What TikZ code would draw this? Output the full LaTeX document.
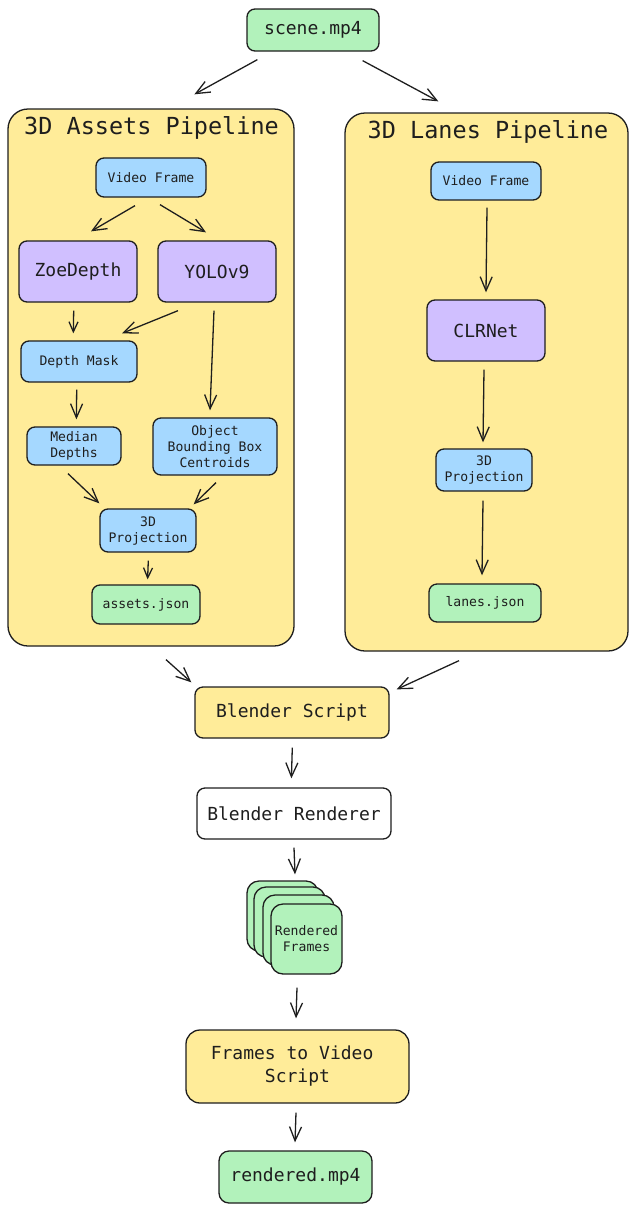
\documentclass[tikz,border=0pt]{standalone}
\usepackage{fontspec}
\newfontfamily\dmono{DejaVu Sans Mono}
\usetikzlibrary{arrows.meta,calc}
\definecolor{ink}{HTML}{1E1E1E}
\definecolor{fgreen}{HTML}{B2F2BB}
\definecolor{fblue}{HTML}{A5D8FF}
\definecolor{fpurple}{HTML}{D0BFFF}
\definecolor{fyellow}{HTML}{FFEC99}
\tikzset{
  x=1pt,y=-1pt,
  box/.style={draw=ink, line width=1.3pt, rounded corners=8pt, align=center, inner sep=0pt, text=ink},
  small/.style={font=\dmono\fontsize{13.1}{16}\selectfont},
  medium/.style={font=\dmono\fontsize{18}{23}\selectfont},
  titlef/.style={font=\dmono\fontsize{23.5}{28}\selectfont, text=ink},
  gbox/.style={box, fill=fgreen},
  bbox/.style={box, fill=fblue},
  pbox/.style={box, fill=fpurple},
  ybox/.style={box, fill=fyellow},
  wbox/.style={box, fill=white},
  container/.style={draw=ink, line width=1.3pt, rounded corners=20pt, fill=fyellow, inner sep=0pt},
  arr/.style={draw=ink, line width=1.3pt, -{Straight Barb[length=14pt,width=12pt,line width=1.3pt]}},
  sarr/.style={draw=ink, line width=1.3pt, -{Straight Barb[length=10pt,width=9pt,line width=1.3pt]}},
}
\begin{document}
\begin{tikzpicture}
\useasboundingbox (0,0) rectangle (629,1205);
% containers
\node[container, minimum width=286pt, minimum height=537pt] (leftc) at (151,377.5) {};
\node[container, minimum width=283pt, minimum height=538pt] (rightc) at (486.5,382) {};
\node[titlef] (ltitle) at (151.5,128) {3D Assets Pipeline};
\node[titlef] (rtitle) at (488,132) {3D Lanes Pipeline};
% top
\node[gbox, medium, minimum width=132pt, minimum height=42pt] (scene) at (313,30) {scene.mp4};
% left pipeline
\node[bbox, small, minimum width=110pt, minimum height=39pt] (lvf) at (151,177.5) {Video Frame};
\node[pbox, medium, minimum width=118pt, minimum height=61pt] (zoe) at (78,271.5) {ZoeDepth};
\node[pbox, medium, minimum width=118pt, minimum height=61pt] (yolo) at (217,271.5) {YOLOv9};
\node[bbox, small, minimum width=116pt, minimum height=41pt] (dmask) at (79,361.5) {Depth Mask};
\node[bbox, small, minimum width=94pt, minimum height=38pt] (median) at (74,446) {Median\\Depths};
\node[bbox, small, minimum width=124pt, minimum height=57pt] (obb) at (215,446.5) {Object\\Bounding Box\\Centroids};
\node[bbox, small, minimum width=96pt, minimum height=43pt] (lproj) at (148,530.5) {3D\\Projection};
\node[gbox, small, minimum width=108pt, minimum height=39pt] (assets) at (146,604.5) {assets.json};
% right pipeline
\node[bbox, small, minimum width=110pt, minimum height=38pt] (rvf) at (486,181) {Video Frame};
\node[pbox, medium, minimum width=118pt, minimum height=61pt] (clr) at (486,330.5) {CLRNet};
\node[bbox, small, minimum width=96pt, minimum height=42pt] (rproj) at (484,470) {3D\\Projection};
\node[gbox, small, minimum width=112pt, minimum height=38pt] (lanes) at (485,603) {lanes.json};
% bottom
\node[ybox, medium, minimum width=194pt, minimum height=51pt] (bscript) at (292,712.5) {Blender Script};
\node[wbox, medium, minimum width=194pt, minimum height=51pt] (brend) at (294,813.5) {Blender Renderer};
\node[gbox, small, minimum width=71pt, minimum height=70pt, rounded corners=12pt] (stacka) at (282.5,916) {};
\node[gbox, small, minimum width=71pt, minimum height=70pt, rounded corners=12pt] (stackb) at (289.5,922) {};
\node[gbox, small, minimum width=71pt, minimum height=70pt, rounded corners=12pt] (stackc) at (298.5,930) {};
\node[gbox, small, minimum width=71pt, minimum height=70pt, rounded corners=12pt] (frames) at (306.5,939) {Rendered\\Frames};
\node[ybox, medium, minimum width=223pt, minimum height=73pt, rounded corners=14pt] (fvs) at (297.5,1066.5) {Frames to Video\hphantom{x}\\Script};
\node[gbox, medium, minimum width=153pt, minimum height=52pt, rounded corners=10pt] (rendered) at (295.5,1177) {rendered.mp4};
% connectors
\draw[arr] ($(scene.south west)+(11,8)$) -- ($(leftc.north west)+(187,-14)$);
\draw[arr] ($(scene.south east)+(-17,9)$) -- ($(rightc.north west)+(94,-11)$);
\draw[arr] ($(lvf.south)+(-16,8)$) -- ($(zoe.north)+(13,-9)$);
\draw[arr] ($(lvf.south)+(9,7)$) -- ($(yolo.north)+(-11,-8)$);
\draw[sarr] ($(zoe.south)+(-4.3,8)$) -- ($(dmask.north)+(-5.7,-7)$);
\draw[arr] ($(yolo.south)+(-39,8)$) -- ($(dmask.north)+(43,-7)$);
\draw[arr] ($(yolo.south)+(-3,8)$) -- ($(obb.north)+(-5,-7)$);
\draw[arr] ($(dmask.south)+(-2.3,7)$) -- ($(median.north)+(2.4,-7)$);
\draw[arr] ($(median.south)+(-6,8)$) -- ($(lproj.north west)+(0,-5)$);
\draw[arr] ($(obb.south)+(1,7)$) -- ($(lproj.north east)+(-3,-4)$);
\draw[sarr] ($(lproj.south)+(0.3,8)$) -- ($(assets.north)+(1.6,-5)$);
\draw[arr] ($(rvf.south)+(1,7)$) -- ($(clr.north)+(0,-7)$);
\draw[arr] ($(clr.south)+(-2,8)$) -- ($(rproj.north)+(-1,-6)$);
\draw[arr] ($(rproj.south)+(-1,9)$) -- ($(lanes.north)+(-3,-8)$);
\draw[arr] ($(leftc.south)+(15,13)$) -- ($(bscript.north west)+(-3,-4)$);
\draw[arr] ($(rightc.south)+(-27.5,9)$) -- ($(bscript.north east)+(7,3)$);
\draw[arr] ($(bscript.south)+(0.3,9)$) -- ($(brend.north)+(-2.6,-9)$);
\draw[arr] ($(brend.south)+(0,8)$) -- ($(stacka.north)+(12.5,-6)$);
\draw[arr] ($(frames.south)+(-9.5,13)$) -- ($(fvs.north)+(-1.5,-11)$);
\draw[arr] ($(fvs.south)+(-1.5,9)$) -- ($(rendered.north)+(-0.5,-8)$);
\end{tikzpicture}
\end{document}
